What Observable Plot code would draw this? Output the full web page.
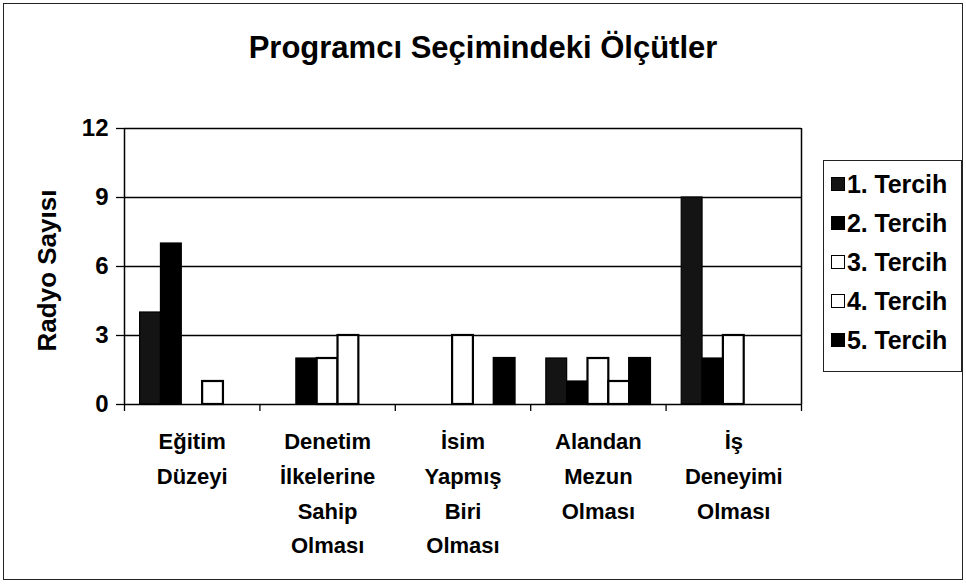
<!DOCTYPE html>
<html>
<head>
<meta charset="utf-8">
<script src="https://cdn.jsdelivr.net/npm/d3@7"></script>
<script src="https://cdn.jsdelivr.net/npm/@observablehq/plot@0.6"></script>
<style>
  html, body { margin: 0; padding: 0; background: #fff; }
  #wrap { position: relative; width: 966px; height: 588px; overflow: hidden; font-family: "Liberation Sans", Arial, sans-serif; }
  #border { position: absolute; left: 3px; top: 3px; width: 960px; height: 577px; border: 1.5px solid #222; box-sizing: border-box; }
  #chart { position: absolute; left: 0; top: 0; }
  #legend { position: absolute; left: 823px; top: 160px; width: 139px; height: 212px; border: 1.5px solid #222; box-sizing: border-box; background: #fff; }
  .item { position: absolute; left: 7px; height: 30px; display: flex; align-items: center; font-weight: bold; font-size: 25px; letter-spacing: -0.1px; color: #000; white-space: nowrap; }
  .sw { width: 14px; height: 14px; box-sizing: border-box; border: 1.5px solid #000; margin-right: 2px; }
</style>
</head>
<body>
<div id="wrap">
  <div id="border"></div>
  <div id="chart"></div>
  <div id="legend"></div>
</div>
<script>
const title = "Programcı Seçimindeki Ölçütler";
const yLabel = "Radyo Sayısı";
const categories = ["Eğitim\nDüzeyi", "Denetim\nİlkelerine\nSahip\nOlması", "İsim\nYapmış\nBiri\nOlması", "Alandan\nMezun\nOlması", "İş\nDeneyimi\nOlması"];
const series = ["1. Tercih", "2. Tercih", "3. Tercih", "4. Tercih", "5. Tercih"];
const tercih1 = [4, 0, 0, 2, 9];
const tercih2 = [7, 2, 0, 1, 2];
const tercih3 = [0, 2, 3, 2, 3];
const tercih4 = [1, 3, 0, 1, 0];
const tercih5 = [0, 0, 2, 2, 0];
const yTicks = [0, 3, 6, 9, 12];
const fills = ["#141414", "#000000", "#ffffff", "#ffffff", "#000000"];

const values = [tercih1, tercih2, tercih3, tercih4, tercih5];
const rows = [];
values.forEach((vals, si) => vals.forEach((v, ci) => rows.push({ci, si, series: series[si], value: v})));
const gap = 0.75, n = series.length, unit = n + 2 * gap;
const bounds = d3.range(categories.length + 1);

const font = "'Liberation Sans', Arial, sans-serif";
const plot = Plot.plot({
  width: 966,
  height: 588,
  marginLeft: 124,
  marginRight: 165,
  marginTop: 128,
  marginBottom: 184,
  style: {fontFamily: font, background: "transparent", color: "#000"},
  x: {domain: [0, categories.length]},
  y: {domain: [0, 12]},
  color: {domain: series, range: fills},
  marks: [
    Plot.ruleY(yTicks.filter(d => d > 0), {stroke: "#000", strokeWidth: 1.5}),
    Plot.rectY(rows.filter(d => d.value > 0), {
      x1: d => d.ci + (gap + d.si) / unit,
      x2: d => d.ci + (gap + d.si + 1) / unit,
      y: "value",
      fill: "series",
      stroke: "#000",
      strokeWidth: d => d.si >= 2 ? 2.2 : 1.2
    }),
    Plot.ruleX([0, categories.length], {y1: 0, y2: 12, stroke: "#000", strokeWidth: 1.5}),
    Plot.ruleY([0], {stroke: "#000", strokeWidth: 1.5}),
    Plot.axisY({ticks: yTicks, tickSize: 8, tickPadding: 8, fontSize: 24, fontWeight: "bold", stroke: "#000", strokeWidth: 1.3, label: null}),
    Plot.axisX({ticks: bounds, tickSize: 7, tickFormat: () => "", stroke: "#000", strokeWidth: 1.3, label: null}),
    Plot.text(categories, {
      x: (d, i) => i + 0.5,
      frameAnchor: "bottom",
      lineAnchor: "top",
      dy: 20,
      lineHeight: 1.58,
      fontSize: 22,
      fontWeight: "bold",
      fill: "#000"
    }),
    Plot.text([yLabel], {frameAnchor: "left", textAnchor: "middle", rotate: -90, dx: -77, dy: 4, fontSize: 26, fontWeight: "bold", fill: "#000"}),
    Plot.text([title], {frameAnchor: "top", dy: -93, dx: 20, fontSize: 31, fontWeight: "bold", fill: "#000"})
  ]
});
document.getElementById("chart").appendChild(plot);

const legend = document.getElementById("legend");
series.forEach((s, i) => {
  const item = document.createElement("div");
  item.className = "item";
  item.style.top = (8 + i * 39) + "px";
  const sw = document.createElement("div");
  sw.className = "sw";
  sw.style.background = fills[i];
  item.appendChild(sw);
  item.appendChild(document.createTextNode(s));
  legend.appendChild(item);
});
</script>
</body>
</html>
